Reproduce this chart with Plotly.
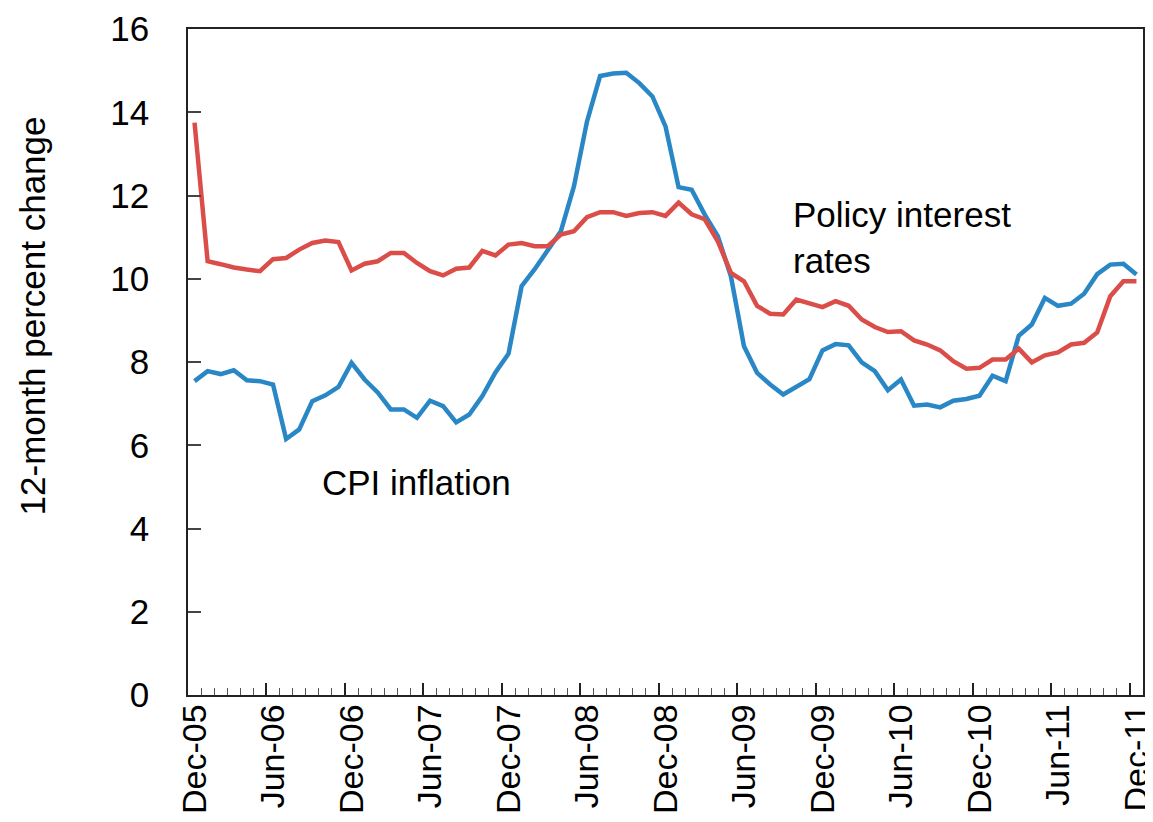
import plotly.graph_objects as go

# Monthly categories Dec-05 .. Dec-11 (73 months)
month_index = list(range(73))
tick_positions = list(range(0, 73, 6))
tick_labels = ["Dec-05", "Jun-06", "Dec-06", "Jun-07", "Dec-07", "Jun-08", "Dec-08",
               "Jun-09", "Dec-09", "Jun-10", "Dec-10", "Jun-11", "Dec-11"]

cpi_inflation = [7.54, 7.78, 7.71, 7.80, 7.56, 7.54, 7.46, 6.15, 6.38, 7.06,
                 7.20, 7.40, 7.98, 7.58, 7.27, 6.86, 6.86, 6.66, 7.07, 6.94,
                 6.55, 6.74, 7.18, 7.75, 8.20, 9.82, 10.23, 10.70, 11.14, 12.22,
                 13.78, 14.87, 14.93, 14.95, 14.70, 14.38, 13.66, 12.20, 12.14, 11.54,
                 11.02, 10.06, 8.38, 7.74, 7.46, 7.22, 7.40, 7.59, 8.28, 8.43,
                 8.40, 7.99, 7.78, 7.32, 7.58, 6.95, 6.98, 6.91, 7.07, 7.11,
                 7.19, 7.67, 7.54, 8.63, 8.90, 9.54, 9.35, 9.40, 9.64, 10.11,
                 10.34, 10.36, 10.10]

policy_rate = [13.75, 10.42, 10.35, 10.27, 10.22, 10.18, 10.47, 10.50, 10.70, 10.86,
               10.92, 10.88, 10.20, 10.36, 10.42, 10.62, 10.62, 10.38, 10.18, 10.08,
               10.24, 10.27, 10.67, 10.56, 10.82, 10.86, 10.78, 10.78, 11.06, 11.14,
               11.48, 11.60, 11.60, 11.51, 11.58, 11.60, 11.51, 11.83, 11.55, 11.43,
               10.90, 10.14, 9.94, 9.35, 9.16, 9.14, 9.50, 9.40, 9.32, 9.46,
               9.35, 9.02, 8.84, 8.72, 8.74, 8.52, 8.42, 8.28, 8.02, 7.84,
               7.86, 8.06, 8.06, 8.32, 7.99, 8.16, 8.23, 8.42, 8.46, 8.71,
               9.58, 9.94, 9.94]

FONT = "Liberation Sans, Arial, sans-serif"
BLUE = "#2a87c6"
RED = "#db4d48"
FS = 35

fig = go.Figure()
fig.add_trace(go.Scatter(x=month_index, y=cpi_inflation, mode="lines",
                         line=dict(color=BLUE, width=4.5), showlegend=False,
                         name="CPI inflation"))
fig.add_trace(go.Scatter(x=month_index, y=policy_rate, mode="lines",
                         line=dict(color=RED, width=4.5), showlegend=False,
                         name="Policy interest rates"))
# invisible trace to activate the boundary-tick axis
fig.add_trace(go.Scatter(x=[-0.5], y=[None], xaxis="x2", yaxis="y",
                         mode="lines", showlegend=False, hoverinfo="skip"))

boundaries = [p - 0.5 for p in tick_positions]

fig.update_layout(
    width=1145, height=814,
    margin=dict(l=180, r=10, t=21, b=127),
    paper_bgcolor="white", plot_bgcolor="white",
    font=dict(family=FONT, size=FS, color="black"),
    xaxis=dict(range=[-0.5, 72.5], tickmode="array", tickvals=tick_positions,
               ticktext=tick_labels, tickangle=-90, ticks="",
               showline=True, linecolor="#222222", linewidth=1.5, mirror=True,
               showgrid=False, zeroline=False, automargin=False,
               ticklabeloverflow="allow", ticklabelstandoff=-6,
               tickfont=dict(family=FONT, size=34)),
    xaxis2=dict(range=[-0.5, 72.5], overlaying="x", anchor="y", side="bottom",
                tickmode="array", tickvals=boundaries, showticklabels=False,
                ticks="inside", ticklen=12, tickwidth=1.5, tickcolor="#222222",
                minor=dict(tickmode="linear", tick0=-0.5, dtick=1, ticks="inside",
                           ticklen=7, tickwidth=1, tickcolor="#555555"),
                showline=False, showgrid=False, zeroline=False, automargin=False),
    yaxis=dict(range=[0, 16], dtick=2, ticks="inside", ticklen=13, tickwidth=1.5,
               tickcolor="#444444", showline=True, linecolor="#222222", linewidth=1.5,
               mirror=True, showgrid=False, zeroline=False, ticklabelstandoff=30,
               automargin=False, ticklabeloverflow="allow",
               tickfont=dict(family=FONT, size=FS)),
    annotations=[
        dict(text="CPI inflation", x=9.58, y=5.10, xref="x", yref="y",
             xanchor="left", yanchor="middle", showarrow=False,
             font=dict(family=FONT, size=FS)),
        dict(text="Policy interest<br>rates", x=45.6, y=10.98, xref="x", yref="y",
             xanchor="left", yanchor="middle", align="left", showarrow=False,
             font=dict(family=FONT, size=FS)),
        dict(text="12-month percent change", x=-0.163, y=0.569, xref="paper",
             yref="paper", textangle=-90, xanchor="center", yanchor="middle",
             showarrow=False, font=dict(family=FONT, size=FS)),
    ],
)

fig.write_html("out.html")
